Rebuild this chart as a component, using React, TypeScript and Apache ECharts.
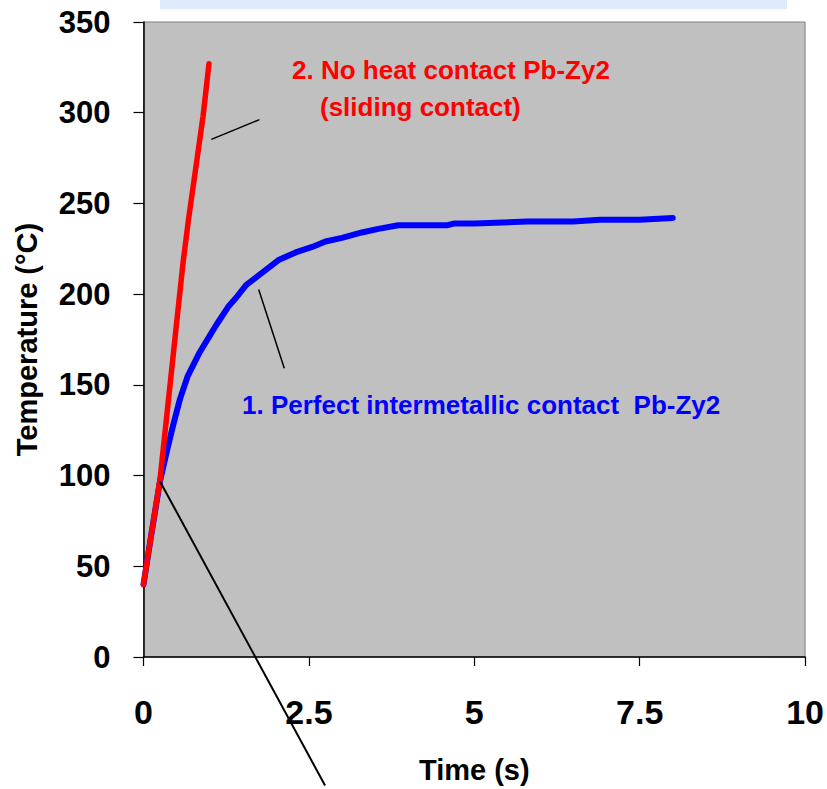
import React, { useEffect, useRef } from "react";
import * as echarts from "echarts";

// Series 1: perfect intermetallic contact Pb-Zy2 (blue)
const TIME_CONTACT = [0, 0.12, 0.25, 0.35, 0.45, 0.55, 0.67, 0.85, 1.0, 1.1, 1.28, 1.4, 1.55, 1.8, 2.05, 2.3, 2.55, 2.75, 3.0, 3.3, 3.55, 3.85, 4.3, 4.6, 4.7, 5.0, 5.8, 6.5, 6.9, 7.5, 8.0];
const TEMP_CONTACT = [40, 68, 97, 113, 128, 142, 155, 168, 177, 183, 193, 198, 205, 212, 219, 223, 226, 229, 231, 234, 236, 238, 238, 238, 239, 239, 240, 240, 241, 241, 242];

// Series 2: no heat contact Pb-Zy2 (red)
const TIME_NOCONTACT = [0, 0.25, 0.5, 0.6, 0.68, 0.9, 0.99];
const TEMP_NOCONTACT = [40, 98, 184, 218, 241, 298, 327];

// Axis settings
const X_MIN = 0, X_MAX = 10, X_STEP = 2.5;
const Y_MIN = 0, Y_MAX = 350, Y_STEP = 50;

// Annotation labels
const LABEL_RED_1 = "2. No heat contact Pb-Zy2";
const LABEL_RED_2 = "(sliding contact)";
const LABEL_BLUE = "1. Perfect intermetallic contact  Pb-Zy2";

// Annotation leader lines, in data coordinates [[x1, y1], [x2, y2]]
const LEADER_LINES: number[][][] = [
  [[1.026, 285.3], [1.752, 296.2]],
  [[1.741, 202.6], [2.128, 159.1]],
  [[0.248, 96.9], [2.744, -70.8]],
];

const zip = (xs: number[], ys: number[]) => xs.map((x, i) => [x, ys[i]]);

const BOLD = "'Liberation Sans', Arial, sans-serif";

export default function App() {
  const ref = useRef<HTMLDivElement>(null);
  useEffect(() => {
    const chart = echarts.init(ref.current!, null, { renderer: "svg" });
    chart.setOption({
      animation: false,
      backgroundColor: "#ffffff",
      grid: {
        left: 143.5,
        right: 18.5,
        top: 22,
        bottom: 129,
        show: true,
        backgroundColor: "#C0C0C0",
        borderColor: "#808080",
        borderWidth: 1,
      },
      xAxis: {
        type: "value",
        min: X_MIN,
        max: X_MAX,
        interval: X_STEP,
        name: "Time (s)",
        nameLocation: "middle",
        nameGap: 98,
        nameTextStyle: { fontFamily: BOLD, fontWeight: "bold", fontSize: 29, color: "#000" },
        splitLine: { show: false },
        axisLine: { lineStyle: { color: "#000", width: 1.5 } },
        axisTick: { inside: false, length: 9, lineStyle: { color: "#000", width: 1.2 } },
        axisLabel: { fontFamily: BOLD, fontWeight: "bold", fontSize: 34, color: "#000", margin: 38 },
      },
      yAxis: {
        type: "value",
        min: Y_MIN,
        max: Y_MAX,
        interval: Y_STEP,
        name: "Temperature (°C)",
        nameLocation: "middle",
        nameGap: 102,
        nameTextStyle: { fontFamily: BOLD, fontWeight: "bold", fontSize: 29, color: "#000" },
        splitLine: { show: false },
        axisLine: { lineStyle: { color: "#000", width: 1.5 } },
        axisTick: { inside: false, length: 10, lineStyle: { color: "#000", width: 1.2 } },
        axisLabel: { fontFamily: BOLD, fontWeight: "bold", fontSize: 31, color: "#000", margin: 33 },
      },
      series: [
        {
          name: "Perfect intermetallic contact Pb-Zy2",
          type: "line",
          data: zip(TIME_CONTACT, TEMP_CONTACT),
          showSymbol: false,
          symbol: "none",
          lineStyle: { color: "#0000FF", width: 6, cap: "round", join: "round" },
          z: 3,
        },
        {
          name: "No heat contact Pb-Zy2",
          type: "line",
          data: zip(TIME_NOCONTACT, TEMP_NOCONTACT),
          showSymbol: false,
          symbol: "none",
          lineStyle: { color: "#FF0000", width: 5.5, cap: "round", join: "round" },
          z: 4,
        },
      ],
    });

    const toPx = (p: number[]) => chart.convertToPixel({ gridIndex: 0 }, p) as number[];
    const leaders = LEADER_LINES.map(([a, b], i) => {
      const pa = toPx(a);
      const pb = toPx(b);
      return {
        type: "line",
        z: 10,
        shape: { x1: pa[0], y1: pa[1], x2: pb[0], y2: pb[1] },
        style: { stroke: "#000", lineWidth: i === 2 ? 2 : 1.5 },
      };
    });

    chart.setOption({
      graphic: [
        { type: "rect", z: 10, shape: { x: 160, y: 0, width: 627, height: 9 }, style: { fill: "#DDEBFD" } },
        ...leaders,
        {
          type: "text", z: 10, x: 292, y: 70,
          style: { text: LABEL_RED_1, fill: "#FF0000", font: `bold 26px ${BOLD}`, textAlign: "left", textVerticalAlign: "middle" },
        },
        {
          type: "text", z: 10, x: 320, y: 107,
          style: { text: LABEL_RED_2, fill: "#FF0000", font: `bold 26px ${BOLD}`, textAlign: "left", textVerticalAlign: "middle" },
        },
        {
          type: "text", z: 10, x: 242, y: 405,
          style: { text: LABEL_BLUE, fill: "#0000FF", font: `bold 26px ${BOLD}`, textAlign: "left", textVerticalAlign: "middle" },
        },
      ],
    });

    return () => chart.dispose();
  }, []);
  return <div ref={ref} style={{ position: "fixed", left: 0, top: 0, width: 827, height: 789 }} />;
}
